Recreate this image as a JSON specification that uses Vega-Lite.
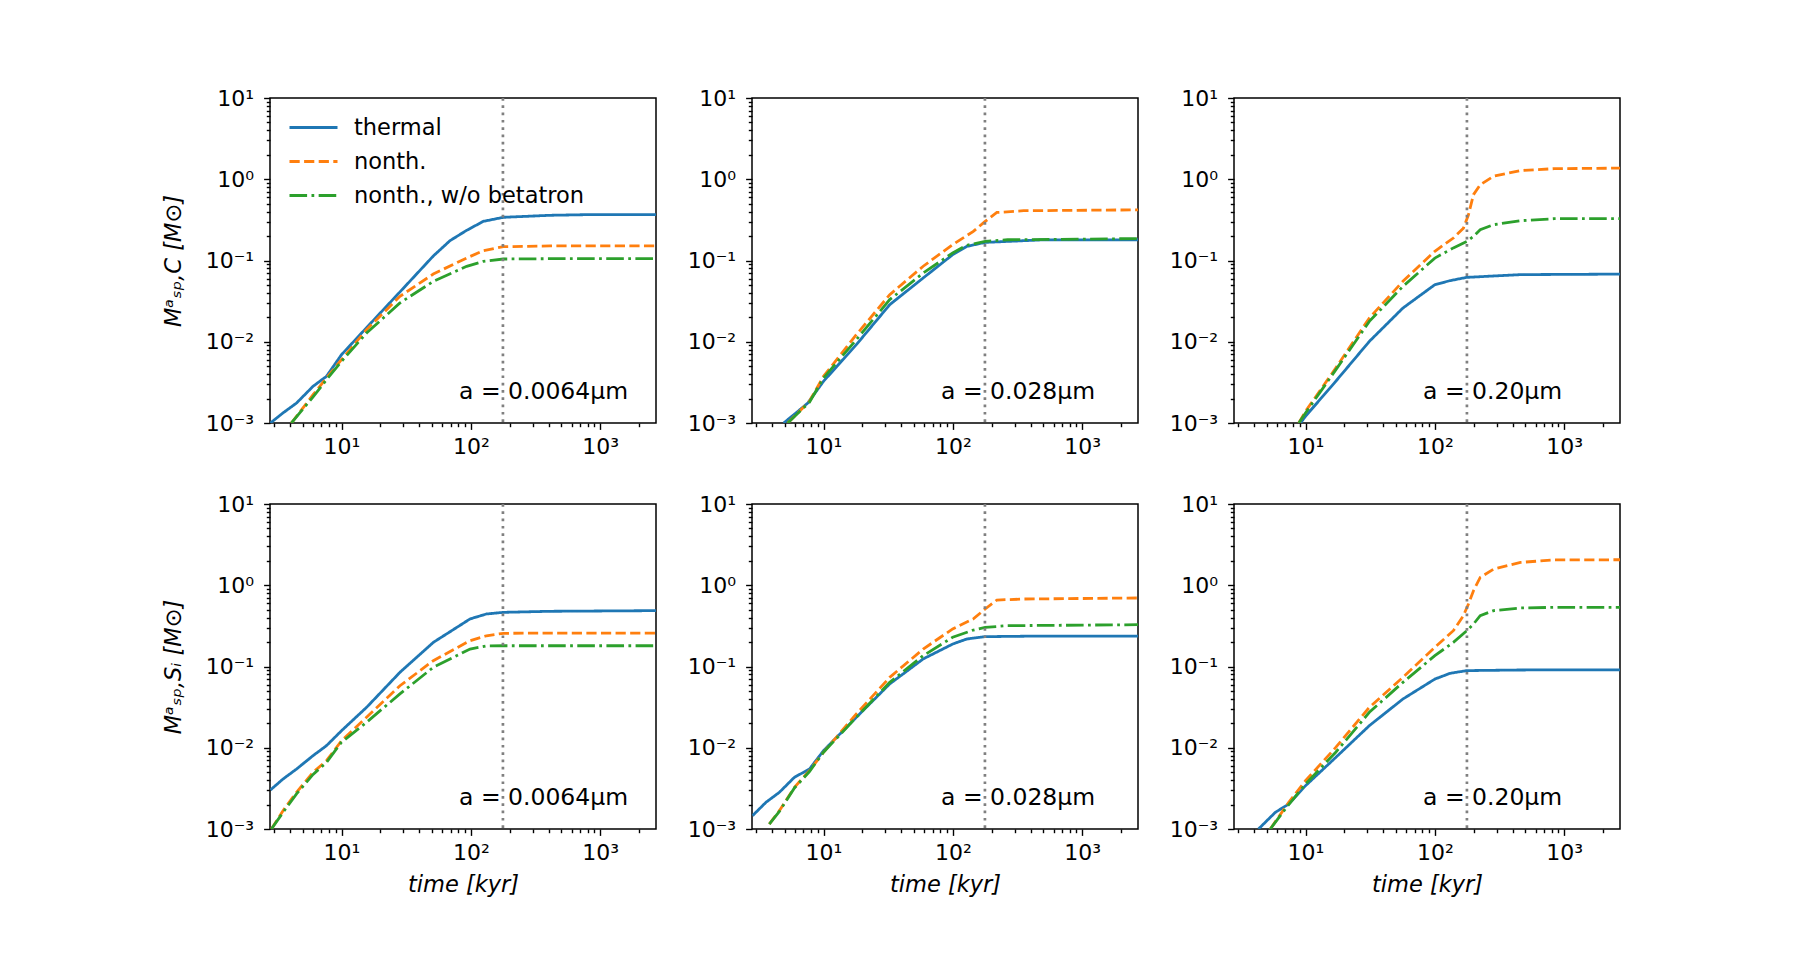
{
"$schema": "https://vega.github.io/schema/vega-lite/v6.json",
"padding": {"left": 161, "top": 86, "right": 5, "bottom": 5},
"background": "white",
"config": {
 "font": "DejaVu Sans",
 "view": {"stroke": "black", "strokeWidth": 1.5},
 "axis": {"domain": false, "grid": false, "labelFont": "DejaVu Sans", "labelFontSize": 22, "labelColor": "black", "tickColor": "black", "tickWidth": 1.4, "titleFont": "DejaVu Sans", "titleFontSize": 22.5, "titleFontWeight": "normal", "titleFontStyle": "italic", "titleColor": "black", "labelFlush": false, "labelOverlap": false, "labelBound": false},
 "text": {"font": "DejaVu Sans"}
},
"data": {"values": [
{"panel":"C1","series":"thermal","time":2.82,"mass":0.001},{"panel":"C1","series":"thermal","time":3.53,"mass":0.00133},{"panel":"C1","series":"thermal","time":4.49,"mass":0.00176},{"panel":"C1","series":"thermal","time":6.03,"mass":0.00283},{"panel":"C1","series":"thermal","time":7.65,"mass":0.00375},{"panel":"C1","series":"thermal","time":10,"mass":0.00693},{"panel":"C1","series":"thermal","time":15.62,"mass":0.0149},{"panel":"C1","series":"thermal","time":28.29,"mass":0.041},{"panel":"C1","series":"thermal","time":51.25,"mass":0.1136},{"panel":"C1","series":"thermal","time":68.98,"mass":0.1754},{"panel":"C1","series":"thermal","time":92.85,"mass":0.2351},{"panel":"C1","series":"thermal","time":124.9,"mass":0.3034},{"panel":"C1","series":"thermal","time":178.5,"mass":0.34},{"panel":"C1","series":"thermal","time":410,"mass":0.36},{"panel":"C1","series":"thermal","time":743,"mass":0.366},{"panel":"C1","series":"thermal","time":2700,"mass":0.366},
{"panel":"C1","series":"nonth.","time":4.1,"mass":0.001},{"panel":"C1","series":"nonth.","time":6.03,"mass":0.00223},{"panel":"C1","series":"nonth.","time":7.65,"mass":0.00358},{"panel":"C1","series":"nonth.","time":10,"mass":0.00602},{"panel":"C1","series":"nonth.","time":15.62,"mass":0.0141},{"panel":"C1","series":"nonth.","time":28.29,"mass":0.0362},{"panel":"C1","series":"nonth.","time":51.25,"mass":0.0682},{"panel":"C1","series":"nonth.","time":92.85,"mass":0.1074},{"panel":"C1","series":"nonth.","time":124.9,"mass":0.132},{"panel":"C1","series":"nonth.","time":178.5,"mass":0.148},{"panel":"C1","series":"nonth.","time":410,"mass":0.151},{"panel":"C1","series":"nonth.","time":2700,"mass":0.151},
{"panel":"C1","series":"nonth., w/o betatron","time":4.1,"mass":0.001},{"panel":"C1","series":"nonth., w/o betatron","time":6.03,"mass":0.0021},{"panel":"C1","series":"nonth., w/o betatron","time":7.65,"mass":0.0034},{"panel":"C1","series":"nonth., w/o betatron","time":10,"mass":0.00574},{"panel":"C1","series":"nonth., w/o betatron","time":15.62,"mass":0.0128},{"panel":"C1","series":"nonth., w/o betatron","time":28.29,"mass":0.03},{"panel":"C1","series":"nonth., w/o betatron","time":51.25,"mass":0.0554},{"panel":"C1","series":"nonth., w/o betatron","time":92.85,"mass":0.0848},{"panel":"C1","series":"nonth., w/o betatron","time":124.9,"mass":0.0977},{"panel":"C1","series":"nonth., w/o betatron","time":178.5,"mass":0.1043},{"panel":"C1","series":"nonth., w/o betatron","time":410,"mass":0.1053},{"panel":"C1","series":"nonth., w/o betatron","time":2700,"mass":0.1053},

{"panel":"C2","series":"thermal","time":4.92,"mass":0.001},{"panel":"C2","series":"thermal","time":6.13,"mass":0.00133},{"panel":"C2","series":"thermal","time":7.56,"mass":0.00176},{"panel":"C2","series":"thermal","time":10,"mass":0.00326},{"panel":"C2","series":"thermal","time":17.93,"mass":0.0092},{"panel":"C2","series":"thermal","time":32.5,"mass":0.0286},{"panel":"C2","series":"thermal","time":59,"mass":0.061},{"panel":"C2","series":"thermal","time":99.7,"mass":0.118},{"panel":"C2","series":"thermal","time":128.1,"mass":0.149},{"panel":"C2","series":"thermal","time":177.7,"mass":0.167},{"panel":"C2","series":"thermal","time":475,"mass":0.179},{"panel":"C2","series":"thermal","time":2700,"mass":0.18},
{"panel":"C2","series":"nonth.","time":5.29,"mass":0.001},{"panel":"C2","series":"nonth.","time":7.78,"mass":0.00185},{"panel":"C2","series":"nonth.","time":10,"mass":0.00375},{"panel":"C2","series":"nonth.","time":17.93,"mass":0.0122},{"panel":"C2","series":"nonth.","time":32.5,"mass":0.038},{"panel":"C2","series":"nonth.","time":59,"mass":0.085},{"panel":"C2","series":"nonth.","time":99.7,"mass":0.157},{"panel":"C2","series":"nonth.","time":144,"mass":0.228},{"panel":"C2","series":"nonth.","time":177.7,"mass":0.303},{"panel":"C2","series":"nonth.","time":218.9,"mass":0.39},{"panel":"C2","series":"nonth.","time":352.6,"mass":0.41},{"panel":"C2","series":"nonth.","time":2700,"mass":0.42},
{"panel":"C2","series":"nonth., w/o betatron","time":5.29,"mass":0.001},{"panel":"C2","series":"nonth., w/o betatron","time":7.78,"mass":0.0018},{"panel":"C2","series":"nonth., w/o betatron","time":10,"mass":0.00358},{"panel":"C2","series":"nonth., w/o betatron","time":17.93,"mass":0.0106},{"panel":"C2","series":"nonth., w/o betatron","time":32.5,"mass":0.033},{"panel":"C2","series":"nonth., w/o betatron","time":59,"mass":0.07},{"panel":"C2","series":"nonth., w/o betatron","time":99.7,"mass":0.124},{"panel":"C2","series":"nonth., w/o betatron","time":128.1,"mass":0.154},{"panel":"C2","series":"nonth., w/o betatron","time":177.7,"mass":0.172},{"panel":"C2","series":"nonth., w/o betatron","time":265,"mass":0.18},{"panel":"C2","series":"nonth., w/o betatron","time":2700,"mass":0.186},

{"panel":"C3","series":"thermal","time":9.14,"mass":0.001},{"panel":"C3","series":"thermal","time":10,"mass":0.00121},{"panel":"C3","series":"thermal","time":17.13,"mass":0.00326},{"panel":"C3","series":"thermal","time":31.15,"mass":0.0101},{"panel":"C3","series":"thermal","time":56.64,"mass":0.026},{"panel":"C3","series":"thermal","time":100,"mass":0.0504},{"panel":"C3","series":"thermal","time":130.9,"mass":0.0565},{"panel":"C3","series":"thermal","time":176.5,"mass":0.062},{"panel":"C3","series":"thermal","time":459.5,"mass":0.067},{"panel":"C3","series":"thermal","time":2700,"mass":0.068},
{"panel":"C3","series":"nonth.","time":8.87,"mass":0.001},{"panel":"C3","series":"nonth.","time":10,"mass":0.00139},{"panel":"C3","series":"nonth.","time":17.13,"mass":0.00475},{"panel":"C3","series":"nonth.","time":31.15,"mass":0.0196},{"panel":"C3","series":"nonth.","time":56.64,"mass":0.0554},{"panel":"C3","series":"nonth.","time":100,"mass":0.13},{"panel":"C3","series":"nonth.","time":139,"mass":0.189},{"panel":"C3","series":"nonth.","time":166.3,"mass":0.25},{"panel":"C3","series":"nonth.","time":181.9,"mass":0.366},{"panel":"C3","series":"nonth.","time":198.9,"mass":0.646},{"panel":"C3","series":"nonth.","time":224.2,"mass":0.857},{"panel":"C3","series":"nonth.","time":284.8,"mass":1.09},{"panel":"C3","series":"nonth.","time":459.5,"mass":1.28},{"panel":"C3","series":"nonth.","time":835.6,"mass":1.35},{"panel":"C3","series":"nonth.","time":2700,"mass":1.37},
{"panel":"C3","series":"nonth., w/o betatron","time":8.87,"mass":0.001},{"panel":"C3","series":"nonth., w/o betatron","time":10,"mass":0.00133},{"panel":"C3","series":"nonth., w/o betatron","time":17.13,"mass":0.0045},{"panel":"C3","series":"nonth., w/o betatron","time":31.15,"mass":0.0178},{"panel":"C3","series":"nonth., w/o betatron","time":56.64,"mass":0.048},{"panel":"C3","series":"nonth., w/o betatron","time":100,"mass":0.107},{"panel":"C3","series":"nonth., w/o betatron","time":139,"mass":0.143},{"panel":"C3","series":"nonth., w/o betatron","time":176.5,"mass":0.172},{"panel":"C3","series":"nonth., w/o betatron","time":198.9,"mass":0.198},{"panel":"C3","series":"nonth., w/o betatron","time":224.2,"mass":0.239},{"panel":"C3","series":"nonth., w/o betatron","time":284.8,"mass":0.276},{"panel":"C3","series":"nonth., w/o betatron","time":459.5,"mass":0.309},{"panel":"C3","series":"nonth., w/o betatron","time":835.6,"mass":0.327},{"panel":"C3","series":"nonth., w/o betatron","time":2700,"mass":0.327},

{"panel":"S1","series":"thermal","time":2.82,"mass":0.00302},{"panel":"S1","series":"thermal","time":3.53,"mass":0.00412},{"panel":"S1","series":"thermal","time":4.49,"mass":0.00547},{"panel":"S1","series":"thermal","time":6.03,"mass":0.008},{"panel":"S1","series":"thermal","time":7.65,"mass":0.0106},{"panel":"S1","series":"thermal","time":10,"mass":0.0162},{"panel":"S1","series":"thermal","time":15.62,"mass":0.0314},{"panel":"S1","series":"thermal","time":28.29,"mass":0.0847},{"panel":"S1","series":"thermal","time":51.25,"mass":0.198},{"panel":"S1","series":"thermal","time":98.6,"mass":0.385},{"panel":"S1","series":"thermal","time":132,"mass":0.443},{"panel":"S1","series":"thermal","time":178.5,"mass":0.464},{"panel":"S1","series":"thermal","time":410,"mass":0.478},{"panel":"S1","series":"thermal","time":2700,"mass":0.487},
{"panel":"S1","series":"nonth.","time":2.87,"mass":0.001},{"panel":"S1","series":"nonth.","time":3.53,"mass":0.00168},{"panel":"S1","series":"nonth.","time":4.49,"mass":0.00283},{"panel":"S1","series":"nonth.","time":6.03,"mass":0.00498},{"panel":"S1","series":"nonth.","time":7.65,"mass":0.00693},{"panel":"S1","series":"nonth.","time":10,"mass":0.0122},{"panel":"S1","series":"nonth.","time":15.62,"mass":0.0237},{"panel":"S1","series":"nonth.","time":28.29,"mass":0.058},{"panel":"S1","series":"nonth.","time":51.25,"mass":0.118},{"panel":"S1","series":"nonth.","time":98.6,"mass":0.208},{"panel":"S1","series":"nonth.","time":132,"mass":0.239},{"panel":"S1","series":"nonth.","time":178.5,"mass":0.256},{"panel":"S1","series":"nonth.","time":410,"mass":0.258},{"panel":"S1","series":"nonth.","time":2700,"mass":0.258},
{"panel":"S1","series":"nonth., w/o betatron","time":2.87,"mass":0.001},{"panel":"S1","series":"nonth., w/o betatron","time":3.53,"mass":0.0016},{"panel":"S1","series":"nonth., w/o betatron","time":4.49,"mass":0.0027},{"panel":"S1","series":"nonth., w/o betatron","time":6.03,"mass":0.0047},{"panel":"S1","series":"nonth., w/o betatron","time":7.65,"mass":0.0066},{"panel":"S1","series":"nonth., w/o betatron","time":10,"mass":0.0117},{"panel":"S1","series":"nonth., w/o betatron","time":15.62,"mass":0.0206},{"panel":"S1","series":"nonth., w/o betatron","time":28.29,"mass":0.046},{"panel":"S1","series":"nonth., w/o betatron","time":51.25,"mass":0.0977},{"panel":"S1","series":"nonth., w/o betatron","time":98.6,"mass":0.164},{"panel":"S1","series":"nonth., w/o betatron","time":132,"mass":0.179},{"panel":"S1","series":"nonth., w/o betatron","time":178.5,"mass":0.18},{"panel":"S1","series":"nonth., w/o betatron","time":2700,"mass":0.18},

{"panel":"S2","series":"thermal","time":2.83,"mass":0.00146},{"panel":"S2","series":"thermal","time":3.59,"mass":0.00213},{"panel":"S2","series":"thermal","time":4.56,"mass":0.00283},{"panel":"S2","series":"thermal","time":5.96,"mass":0.00433},{"panel":"S2","series":"thermal","time":7.79,"mass":0.00547},{"panel":"S2","series":"thermal","time":10,"mass":0.0092},{"panel":"S2","series":"thermal","time":17.93,"mass":0.0237},{"panel":"S2","series":"thermal","time":32.5,"mass":0.061},{"panel":"S2","series":"thermal","time":59,"mass":0.124},{"panel":"S2","series":"thermal","time":99.7,"mass":0.189},{"panel":"S2","series":"thermal","time":128.1,"mass":0.218},{"panel":"S2","series":"thermal","time":177.7,"mass":0.233},{"panel":"S2","series":"thermal","time":475,"mass":0.237},{"panel":"S2","series":"thermal","time":2700,"mass":0.237},
{"panel":"S2","series":"nonth.","time":3.81,"mass":0.00115},{"panel":"S2","series":"nonth.","time":4.56,"mass":0.00168},{"panel":"S2","series":"nonth.","time":5.96,"mass":0.00326},{"panel":"S2","series":"nonth.","time":7.79,"mass":0.00522},{"panel":"S2","series":"nonth.","time":10,"mass":0.0088},{"panel":"S2","series":"nonth.","time":17.93,"mass":0.026},{"panel":"S2","series":"nonth.","time":32.5,"mass":0.0736},{"panel":"S2","series":"nonth.","time":59,"mass":0.164},{"panel":"S2","series":"nonth.","time":99.7,"mass":0.29},{"panel":"S2","series":"nonth.","time":144,"mass":0.385},{"panel":"S2","series":"nonth.","time":177.7,"mass":0.51},{"panel":"S2","series":"nonth.","time":218.9,"mass":0.658},{"panel":"S2","series":"nonth.","time":352.6,"mass":0.677},{"panel":"S2","series":"nonth.","time":2700,"mass":0.697},
{"panel":"S2","series":"nonth., w/o betatron","time":3.81,"mass":0.00115},{"panel":"S2","series":"nonth., w/o betatron","time":4.56,"mass":0.00165},{"panel":"S2","series":"nonth., w/o betatron","time":5.96,"mass":0.0032},{"panel":"S2","series":"nonth., w/o betatron","time":7.79,"mass":0.0051},{"panel":"S2","series":"nonth., w/o betatron","time":10,"mass":0.0088},{"panel":"S2","series":"nonth., w/o betatron","time":17.93,"mass":0.0237},{"panel":"S2","series":"nonth., w/o betatron","time":32.5,"mass":0.0638},{"panel":"S2","series":"nonth., w/o betatron","time":59,"mass":0.136},{"panel":"S2","series":"nonth., w/o betatron","time":99.7,"mass":0.229},{"panel":"S2","series":"nonth., w/o betatron","time":144,"mass":0.281},{"panel":"S2","series":"nonth., w/o betatron","time":177.7,"mass":0.303},{"panel":"S2","series":"nonth., w/o betatron","time":263,"mass":0.318},{"panel":"S2","series":"nonth., w/o betatron","time":2700,"mass":0.327},

{"panel":"S3","series":"thermal","time":4.33,"mass":0.001},{"panel":"S3","series":"thermal","time":5.84,"mass":0.0016},{"panel":"S3","series":"thermal","time":7.42,"mass":0.00203},{"panel":"S3","series":"thermal","time":10,"mass":0.00341},{"panel":"S3","series":"thermal","time":17.13,"mass":0.0076},{"panel":"S3","series":"thermal","time":31.15,"mass":0.0187},{"panel":"S3","series":"thermal","time":56.64,"mass":0.0398},{"panel":"S3","series":"thermal","time":100,"mass":0.07},{"panel":"S3","series":"thermal","time":130.9,"mass":0.0824},{"panel":"S3","series":"thermal","time":176.5,"mass":0.089},{"panel":"S3","series":"thermal","time":459.5,"mass":0.0906},{"panel":"S3","series":"thermal","time":2700,"mass":0.091},
{"panel":"S3","series":"nonth.","time":5.34,"mass":0.001},{"panel":"S3","series":"nonth.","time":7.42,"mass":0.00213},{"panel":"S3","series":"nonth.","time":10,"mass":0.00393},{"panel":"S3","series":"nonth.","time":17.13,"mass":0.0101},{"panel":"S3","series":"nonth.","time":31.15,"mass":0.0314},{"panel":"S3","series":"nonth.","time":56.64,"mass":0.0736},{"panel":"S3","series":"nonth.","time":100,"mass":0.172},{"panel":"S3","series":"nonth.","time":139,"mass":0.276},{"panel":"S3","series":"nonth.","time":166.3,"mass":0.423},{"panel":"S3","series":"nonth.","time":181.9,"mass":0.588},{"panel":"S3","series":"nonth.","time":198.9,"mass":0.857},{"panel":"S3","series":"nonth.","time":224.2,"mass":1.25},{"panel":"S3","series":"nonth.","time":284.8,"mass":1.58},{"panel":"S3","series":"nonth.","time":459.5,"mass":1.91},{"panel":"S3","series":"nonth.","time":835.6,"mass":2.05},{"panel":"S3","series":"nonth.","time":2700,"mass":2.06},
{"panel":"S3","series":"nonth., w/o betatron","time":5.34,"mass":0.001},{"panel":"S3","series":"nonth., w/o betatron","time":7.42,"mass":0.002},{"panel":"S3","series":"nonth., w/o betatron","time":10,"mass":0.00358},{"panel":"S3","series":"nonth., w/o betatron","time":17.13,"mass":0.0088},{"panel":"S3","series":"nonth., w/o betatron","time":31.15,"mass":0.0273},{"panel":"S3","series":"nonth., w/o betatron","time":56.64,"mass":0.0638},{"panel":"S3","series":"nonth., w/o betatron","time":100,"mass":0.136},{"panel":"S3","series":"nonth., w/o betatron","time":139,"mass":0.198},{"panel":"S3","series":"nonth., w/o betatron","time":176.5,"mass":0.276},{"panel":"S3","series":"nonth., w/o betatron","time":198.9,"mass":0.333},{"panel":"S3","series":"nonth., w/o betatron","time":224.2,"mass":0.423},{"panel":"S3","series":"nonth., w/o betatron","time":284.8,"mass":0.487},{"panel":"S3","series":"nonth., w/o betatron","time":459.5,"mass":0.525},{"panel":"S3","series":"nonth., w/o betatron","time":835.6,"mass":0.535},{"panel":"S3","series":"nonth., w/o betatron","time":2700,"mass":0.535}
]},
"bounds": "flush",
"columns": 3,
"spacing": {"row": 81, "column": 96},
"resolve": {"legend": {"color": "independent", "strokeDash": "independent"}},
"concat": [
 {"width": 386, "height": 325, "layer": [
  {"transform": [{"filter": "datum.panel == 'C1'"}], "mark": {"type": "line", "clip": true, "strokeWidth": 2.8},
   "encoding": {
    "x": {"field": "time", "type": "quantitative", "scale": {"type": "log", "domain": [2.8, 2700], "nice": false}, "axis": {"title": null, "values": [3,4,5,6,7,8,9,10,20,30,40,50,60,70,80,90,100,200,300,400,500,600,700,800,900,1000,2000], "labelExpr": "datum.value == 10 ? '10¹' : datum.value == 100 ? '10²' : datum.value == 1000 ? '10³' : ''", "tickSize": {"condition": {"test": "datum.value == 10 || datum.value == 100 || datum.value == 1000", "value": 6.4}, "value": 3.7}, "labelPadding": 7.5}},
    "y": {"field": "mass", "type": "quantitative", "scale": {"type": "log", "domain": [0.001, 10], "nice": false}, "axis": {"title": "Mᵃₛₚ,C [M⊙]", "titlePadding": 20, "values": [0.001,0.002,0.003,0.004,0.005,0.006,0.007,0.008,0.009,0.01,0.02,0.03,0.04,0.05,0.06,0.07,0.08,0.09,0.1,0.2,0.3,0.4,0.5,0.6,0.7,0.8,0.9,1,2,3,4,5,6,7,8,9,10], "labelExpr": "datum.value == 0.001 ? '10⁻³' : datum.value == 0.01 ? '10⁻²' : datum.value == 0.1 ? '10⁻¹' : datum.value == 1 ? '10⁰' : datum.value == 10 ? '10¹' : ''", "tickSize": {"condition": {"test": "datum.value == 0.001 || datum.value == 0.01 || datum.value == 0.1 || datum.value == 1 || datum.value == 10", "value": 6.4}, "value": 3.7}, "labelPadding": 10}},
    "color": {"field": "series", "type": "nominal", "scale": {"domain": ["thermal", "nonth.", "nonth., w/o betatron"], "range": ["#1f77b4", "#ff7f0e", "#2ca02c"]}, "legend": {"orient": "none", "legendX": 18, "legendY": 12, "title": null, "padding": 0, "labelFontSize": 22.5, "labelColor": "black", "labelLimit": 500, "symbolType": "M-1,0H2", "symbolSize": 1024, "symbolStrokeWidth": 2.8, "labelOffset": 31, "rowPadding": 5}},
    "strokeDash": {"field": "series", "type": "nominal", "scale": {"domain": ["thermal", "nonth.", "nonth., w/o betatron"], "range": [[1, 0], [10.2, 4.4], [17.6, 4.4, 2.75, 4.4]]}, "legend": {"orient": "none", "legendX": 18, "legendY": 12, "title": null, "padding": 0, "labelFontSize": 22.5, "labelColor": "black", "labelLimit": 500, "symbolType": "M-1,0H2", "symbolSize": 1024, "symbolStrokeWidth": 2.8, "labelOffset": 31, "rowPadding": 5}}
   }},
  {"data": {"values": [{"event": "t0"}]}, "mark": {"type": "rule", "color": "#808080", "strokeDash": [2.7, 4.6], "strokeWidth": 2.7}, "encoding": {"x": {"datum": 177}}},
  {"data": {"values": [{"label": "a = 0.0064µm"}]}, "mark": {"type": "text", "align": "left", "baseline": "alphabetic", "fontSize": 23.5, "color": "black"}, "encoding": {"x": {"datum": 81}, "y": {"datum": 0.002}, "text": {"field": "label"}}}
 ]},
 {"width": 386, "height": 325, "layer": [
  {"transform": [{"filter": "datum.panel == 'C2'"}], "mark": {"type": "line", "clip": true, "strokeWidth": 2.8},
   "encoding": {
    "x": {"field": "time", "type": "quantitative", "scale": {"type": "log", "domain": [2.8, 2700], "nice": false}, "axis": {"title": null, "values": [3,4,5,6,7,8,9,10,20,30,40,50,60,70,80,90,100,200,300,400,500,600,700,800,900,1000,2000], "labelExpr": "datum.value == 10 ? '10¹' : datum.value == 100 ? '10²' : datum.value == 1000 ? '10³' : ''", "tickSize": {"condition": {"test": "datum.value == 10 || datum.value == 100 || datum.value == 1000", "value": 6.4}, "value": 3.7}, "labelPadding": 7.5}},
    "y": {"field": "mass", "type": "quantitative", "scale": {"type": "log", "domain": [0.001, 10], "nice": false}, "axis": {"title": null, "values": [0.001,0.002,0.003,0.004,0.005,0.006,0.007,0.008,0.009,0.01,0.02,0.03,0.04,0.05,0.06,0.07,0.08,0.09,0.1,0.2,0.3,0.4,0.5,0.6,0.7,0.8,0.9,1,2,3,4,5,6,7,8,9,10], "labelExpr": "datum.value == 0.001 ? '10⁻³' : datum.value == 0.01 ? '10⁻²' : datum.value == 0.1 ? '10⁻¹' : datum.value == 1 ? '10⁰' : datum.value == 10 ? '10¹' : ''", "tickSize": {"condition": {"test": "datum.value == 0.001 || datum.value == 0.01 || datum.value == 0.1 || datum.value == 1 || datum.value == 10", "value": 6.4}, "value": 3.7}, "labelPadding": 10}},
    "color": {"field": "series", "type": "nominal", "scale": {"domain": ["thermal", "nonth.", "nonth., w/o betatron"], "range": ["#1f77b4", "#ff7f0e", "#2ca02c"]}, "legend": null},
    "strokeDash": {"field": "series", "type": "nominal", "scale": {"domain": ["thermal", "nonth.", "nonth., w/o betatron"], "range": [[1, 0], [10.2, 4.4], [17.6, 4.4, 2.75, 4.4]]}, "legend": null}
   }},
  {"data": {"values": [{"event": "t0"}]}, "mark": {"type": "rule", "color": "#808080", "strokeDash": [2.7, 4.6], "strokeWidth": 2.7}, "encoding": {"x": {"datum": 177}}},
  {"data": {"values": [{"label": "a = 0.028µm"}]}, "mark": {"type": "text", "align": "left", "baseline": "alphabetic", "fontSize": 23.5, "color": "black"}, "encoding": {"x": {"datum": 81}, "y": {"datum": 0.002}, "text": {"field": "label"}}}
 ]},
 {"width": 386, "height": 325, "layer": [
  {"transform": [{"filter": "datum.panel == 'C3'"}], "mark": {"type": "line", "clip": true, "strokeWidth": 2.8},
   "encoding": {
    "x": {"field": "time", "type": "quantitative", "scale": {"type": "log", "domain": [2.8, 2700], "nice": false}, "axis": {"title": null, "values": [3,4,5,6,7,8,9,10,20,30,40,50,60,70,80,90,100,200,300,400,500,600,700,800,900,1000,2000], "labelExpr": "datum.value == 10 ? '10¹' : datum.value == 100 ? '10²' : datum.value == 1000 ? '10³' : ''", "tickSize": {"condition": {"test": "datum.value == 10 || datum.value == 100 || datum.value == 1000", "value": 6.4}, "value": 3.7}, "labelPadding": 7.5}},
    "y": {"field": "mass", "type": "quantitative", "scale": {"type": "log", "domain": [0.001, 10], "nice": false}, "axis": {"title": null, "values": [0.001,0.002,0.003,0.004,0.005,0.006,0.007,0.008,0.009,0.01,0.02,0.03,0.04,0.05,0.06,0.07,0.08,0.09,0.1,0.2,0.3,0.4,0.5,0.6,0.7,0.8,0.9,1,2,3,4,5,6,7,8,9,10], "labelExpr": "datum.value == 0.001 ? '10⁻³' : datum.value == 0.01 ? '10⁻²' : datum.value == 0.1 ? '10⁻¹' : datum.value == 1 ? '10⁰' : datum.value == 10 ? '10¹' : ''", "tickSize": {"condition": {"test": "datum.value == 0.001 || datum.value == 0.01 || datum.value == 0.1 || datum.value == 1 || datum.value == 10", "value": 6.4}, "value": 3.7}, "labelPadding": 10}},
    "color": {"field": "series", "type": "nominal", "scale": {"domain": ["thermal", "nonth.", "nonth., w/o betatron"], "range": ["#1f77b4", "#ff7f0e", "#2ca02c"]}, "legend": null},
    "strokeDash": {"field": "series", "type": "nominal", "scale": {"domain": ["thermal", "nonth.", "nonth., w/o betatron"], "range": [[1, 0], [10.2, 4.4], [17.6, 4.4, 2.75, 4.4]]}, "legend": null}
   }},
  {"data": {"values": [{"event": "t0"}]}, "mark": {"type": "rule", "color": "#808080", "strokeDash": [2.7, 4.6], "strokeWidth": 2.7}, "encoding": {"x": {"datum": 177}}},
  {"data": {"values": [{"label": "a = 0.20µm"}]}, "mark": {"type": "text", "align": "left", "baseline": "alphabetic", "fontSize": 23.5, "color": "black"}, "encoding": {"x": {"datum": 81}, "y": {"datum": 0.002}, "text": {"field": "label"}}}
 ]},
 {"width": 386, "height": 325, "layer": [
  {"transform": [{"filter": "datum.panel == 'S1'"}], "mark": {"type": "line", "clip": true, "strokeWidth": 2.8},
   "encoding": {
    "x": {"field": "time", "type": "quantitative", "scale": {"type": "log", "domain": [2.8, 2700], "nice": false}, "axis": {"title": "time [kyr]", "titlePadding": 10, "values": [3,4,5,6,7,8,9,10,20,30,40,50,60,70,80,90,100,200,300,400,500,600,700,800,900,1000,2000], "labelExpr": "datum.value == 10 ? '10¹' : datum.value == 100 ? '10²' : datum.value == 1000 ? '10³' : ''", "tickSize": {"condition": {"test": "datum.value == 10 || datum.value == 100 || datum.value == 1000", "value": 6.4}, "value": 3.7}, "labelPadding": 7.5}},
    "y": {"field": "mass", "type": "quantitative", "scale": {"type": "log", "domain": [0.001, 10], "nice": false}, "axis": {"title": "Mᵃₛₚ,Sᵢ [M⊙]", "titlePadding": 20, "values": [0.001,0.002,0.003,0.004,0.005,0.006,0.007,0.008,0.009,0.01,0.02,0.03,0.04,0.05,0.06,0.07,0.08,0.09,0.1,0.2,0.3,0.4,0.5,0.6,0.7,0.8,0.9,1,2,3,4,5,6,7,8,9,10], "labelExpr": "datum.value == 0.001 ? '10⁻³' : datum.value == 0.01 ? '10⁻²' : datum.value == 0.1 ? '10⁻¹' : datum.value == 1 ? '10⁰' : datum.value == 10 ? '10¹' : ''", "tickSize": {"condition": {"test": "datum.value == 0.001 || datum.value == 0.01 || datum.value == 0.1 || datum.value == 1 || datum.value == 10", "value": 6.4}, "value": 3.7}, "labelPadding": 10}},
    "color": {"field": "series", "type": "nominal", "scale": {"domain": ["thermal", "nonth.", "nonth., w/o betatron"], "range": ["#1f77b4", "#ff7f0e", "#2ca02c"]}, "legend": null},
    "strokeDash": {"field": "series", "type": "nominal", "scale": {"domain": ["thermal", "nonth.", "nonth., w/o betatron"], "range": [[1, 0], [10.2, 4.4], [17.6, 4.4, 2.75, 4.4]]}, "legend": null}
   }},
  {"data": {"values": [{"event": "t0"}]}, "mark": {"type": "rule", "color": "#808080", "strokeDash": [2.7, 4.6], "strokeWidth": 2.7}, "encoding": {"x": {"datum": 177}}},
  {"data": {"values": [{"label": "a = 0.0064µm"}]}, "mark": {"type": "text", "align": "left", "baseline": "alphabetic", "fontSize": 23.5, "color": "black"}, "encoding": {"x": {"datum": 81}, "y": {"datum": 0.002}, "text": {"field": "label"}}}
 ]},
 {"width": 386, "height": 325, "layer": [
  {"transform": [{"filter": "datum.panel == 'S2'"}], "mark": {"type": "line", "clip": true, "strokeWidth": 2.8},
   "encoding": {
    "x": {"field": "time", "type": "quantitative", "scale": {"type": "log", "domain": [2.8, 2700], "nice": false}, "axis": {"title": "time [kyr]", "titlePadding": 10, "values": [3,4,5,6,7,8,9,10,20,30,40,50,60,70,80,90,100,200,300,400,500,600,700,800,900,1000,2000], "labelExpr": "datum.value == 10 ? '10¹' : datum.value == 100 ? '10²' : datum.value == 1000 ? '10³' : ''", "tickSize": {"condition": {"test": "datum.value == 10 || datum.value == 100 || datum.value == 1000", "value": 6.4}, "value": 3.7}, "labelPadding": 7.5}},
    "y": {"field": "mass", "type": "quantitative", "scale": {"type": "log", "domain": [0.001, 10], "nice": false}, "axis": {"title": null, "values": [0.001,0.002,0.003,0.004,0.005,0.006,0.007,0.008,0.009,0.01,0.02,0.03,0.04,0.05,0.06,0.07,0.08,0.09,0.1,0.2,0.3,0.4,0.5,0.6,0.7,0.8,0.9,1,2,3,4,5,6,7,8,9,10], "labelExpr": "datum.value == 0.001 ? '10⁻³' : datum.value == 0.01 ? '10⁻²' : datum.value == 0.1 ? '10⁻¹' : datum.value == 1 ? '10⁰' : datum.value == 10 ? '10¹' : ''", "tickSize": {"condition": {"test": "datum.value == 0.001 || datum.value == 0.01 || datum.value == 0.1 || datum.value == 1 || datum.value == 10", "value": 6.4}, "value": 3.7}, "labelPadding": 10}},
    "color": {"field": "series", "type": "nominal", "scale": {"domain": ["thermal", "nonth.", "nonth., w/o betatron"], "range": ["#1f77b4", "#ff7f0e", "#2ca02c"]}, "legend": null},
    "strokeDash": {"field": "series", "type": "nominal", "scale": {"domain": ["thermal", "nonth.", "nonth., w/o betatron"], "range": [[1, 0], [10.2, 4.4], [17.6, 4.4, 2.75, 4.4]]}, "legend": null}
   }},
  {"data": {"values": [{"event": "t0"}]}, "mark": {"type": "rule", "color": "#808080", "strokeDash": [2.7, 4.6], "strokeWidth": 2.7}, "encoding": {"x": {"datum": 177}}},
  {"data": {"values": [{"label": "a = 0.028µm"}]}, "mark": {"type": "text", "align": "left", "baseline": "alphabetic", "fontSize": 23.5, "color": "black"}, "encoding": {"x": {"datum": 81}, "y": {"datum": 0.002}, "text": {"field": "label"}}}
 ]},
 {"width": 386, "height": 325, "layer": [
  {"transform": [{"filter": "datum.panel == 'S3'"}], "mark": {"type": "line", "clip": true, "strokeWidth": 2.8},
   "encoding": {
    "x": {"field": "time", "type": "quantitative", "scale": {"type": "log", "domain": [2.8, 2700], "nice": false}, "axis": {"title": "time [kyr]", "titlePadding": 10, "values": [3,4,5,6,7,8,9,10,20,30,40,50,60,70,80,90,100,200,300,400,500,600,700,800,900,1000,2000], "labelExpr": "datum.value == 10 ? '10¹' : datum.value == 100 ? '10²' : datum.value == 1000 ? '10³' : ''", "tickSize": {"condition": {"test": "datum.value == 10 || datum.value == 100 || datum.value == 1000", "value": 6.4}, "value": 3.7}, "labelPadding": 7.5}},
    "y": {"field": "mass", "type": "quantitative", "scale": {"type": "log", "domain": [0.001, 10], "nice": false}, "axis": {"title": null, "values": [0.001,0.002,0.003,0.004,0.005,0.006,0.007,0.008,0.009,0.01,0.02,0.03,0.04,0.05,0.06,0.07,0.08,0.09,0.1,0.2,0.3,0.4,0.5,0.6,0.7,0.8,0.9,1,2,3,4,5,6,7,8,9,10], "labelExpr": "datum.value == 0.001 ? '10⁻³' : datum.value == 0.01 ? '10⁻²' : datum.value == 0.1 ? '10⁻¹' : datum.value == 1 ? '10⁰' : datum.value == 10 ? '10¹' : ''", "tickSize": {"condition": {"test": "datum.value == 0.001 || datum.value == 0.01 || datum.value == 0.1 || datum.value == 1 || datum.value == 10", "value": 6.4}, "value": 3.7}, "labelPadding": 10}},
    "color": {"field": "series", "type": "nominal", "scale": {"domain": ["thermal", "nonth.", "nonth., w/o betatron"], "range": ["#1f77b4", "#ff7f0e", "#2ca02c"]}, "legend": null},
    "strokeDash": {"field": "series", "type": "nominal", "scale": {"domain": ["thermal", "nonth.", "nonth., w/o betatron"], "range": [[1, 0], [10.2, 4.4], [17.6, 4.4, 2.75, 4.4]]}, "legend": null}
   }},
  {"data": {"values": [{"event": "t0"}]}, "mark": {"type": "rule", "color": "#808080", "strokeDash": [2.7, 4.6], "strokeWidth": 2.7}, "encoding": {"x": {"datum": 177}}},
  {"data": {"values": [{"label": "a = 0.20µm"}]}, "mark": {"type": "text", "align": "left", "baseline": "alphabetic", "fontSize": 23.5, "color": "black"}, "encoding": {"x": {"datum": 81}, "y": {"datum": 0.002}, "text": {"field": "label"}}}
 ]}
]
}
